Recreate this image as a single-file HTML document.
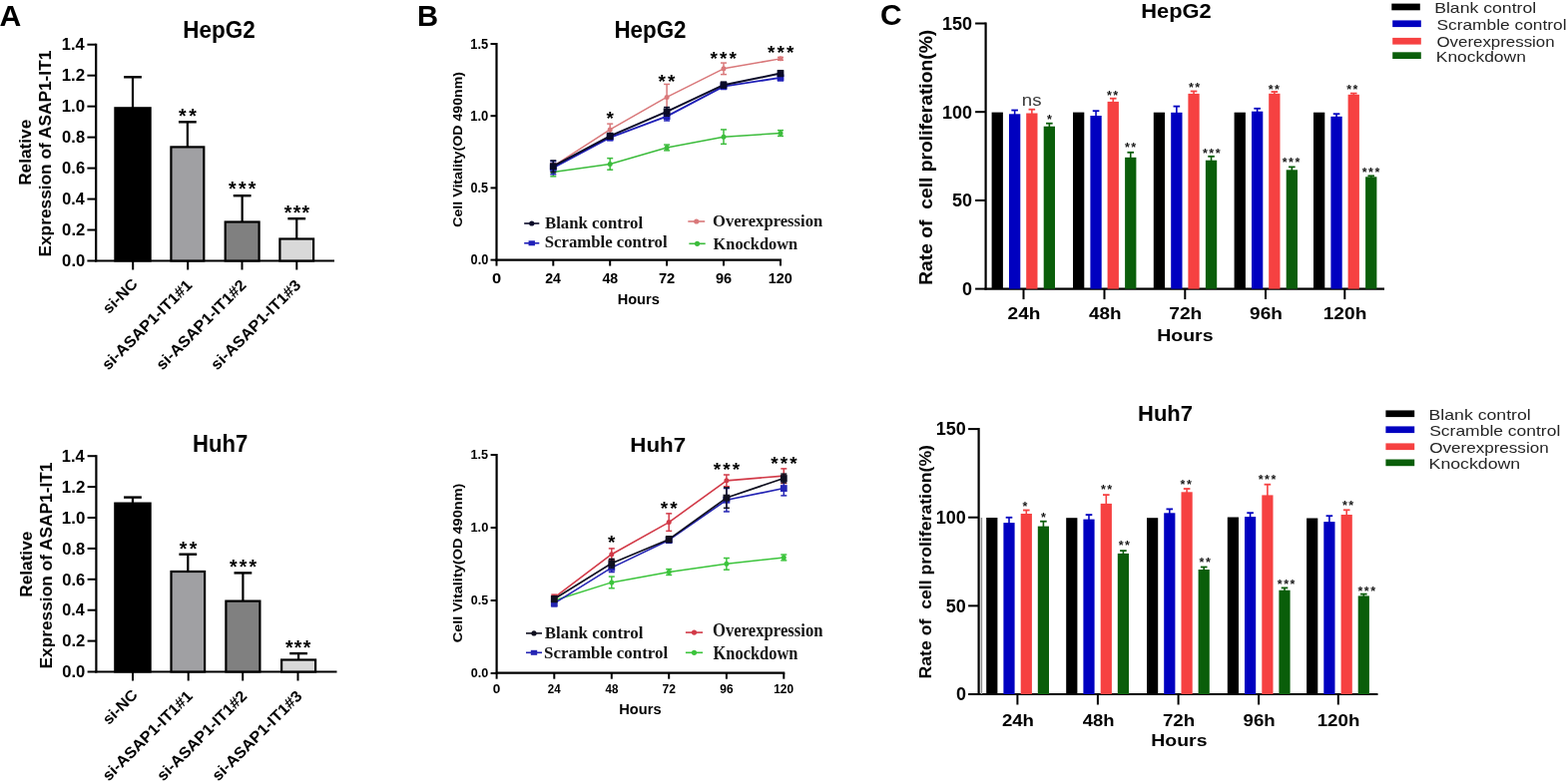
<!DOCTYPE html>
<html><head><meta charset="utf-8"><title>Figure</title>
<style>
html,body{margin:0;padding:0;background:#fff;}
body{width:1571px;height:786px;overflow:hidden;}
svg{display:block;}
</style></head>
<body>
<svg width="1571" height="786" viewBox="0 0 1571 786">
<rect width="1571" height="786" fill="#fff"/>
<text x="-0.55" y="25.8" font-size="30" text-anchor="start" font-weight="bold" font-family="'Liberation Sans', Arial, Helvetica, sans-serif" fill="#000" textLength="21.77" lengthAdjust="spacingAndGlyphs">A</text>
<text x="418" y="25.6" font-size="29.71" text-anchor="start" font-weight="bold" font-family="'Liberation Sans', Arial, Helvetica, sans-serif" fill="#000" textLength="21.07" lengthAdjust="spacingAndGlyphs">B</text>
<text x="881.9" y="25.4" font-size="29.86" text-anchor="start" font-weight="bold" font-family="'Liberation Sans', Arial, Helvetica, sans-serif" fill="#000" textLength="21.61" lengthAdjust="spacingAndGlyphs">C</text>
<text x="183.34" y="37.9" font-size="23.33" text-anchor="start" font-weight="bold" font-family="'Liberation Sans', Arial, Helvetica, sans-serif" fill="#000" textLength="72.33" lengthAdjust="spacingAndGlyphs">HepG2</text>
<line x1="96.2" y1="43.7" x2="96.2" y2="262.5" stroke="#000" stroke-width="2.2"/>
<line x1="87.4" y1="261.5" x2="96.2" y2="261.5" stroke="#000" stroke-width="2"/>
<text x="62.13" y="267.2" font-size="16.23" text-anchor="start" font-weight="bold" font-family="'Liberation Sans', Arial, Helvetica, sans-serif" fill="#000" textLength="23.13" lengthAdjust="spacingAndGlyphs">0.0</text>
<line x1="87.4" y1="230.53" x2="96.2" y2="230.53" stroke="#000" stroke-width="2"/>
<text x="62.13" y="236.23" font-size="16.23" text-anchor="start" font-weight="bold" font-family="'Liberation Sans', Arial, Helvetica, sans-serif" fill="#000" textLength="23.13" lengthAdjust="spacingAndGlyphs">0.2</text>
<line x1="87.4" y1="199.56" x2="96.2" y2="199.56" stroke="#000" stroke-width="2"/>
<text x="62.15" y="205.26" font-size="16.23" text-anchor="start" font-weight="bold" font-family="'Liberation Sans', Arial, Helvetica, sans-serif" fill="#000" textLength="22.53" lengthAdjust="spacingAndGlyphs">0.4</text>
<line x1="87.4" y1="168.59" x2="96.2" y2="168.59" stroke="#000" stroke-width="2"/>
<text x="62.14" y="174.29" font-size="16.23" text-anchor="start" font-weight="bold" font-family="'Liberation Sans', Arial, Helvetica, sans-serif" fill="#000" textLength="23.05" lengthAdjust="spacingAndGlyphs">0.6</text>
<line x1="87.4" y1="137.61" x2="96.2" y2="137.61" stroke="#000" stroke-width="2"/>
<text x="62.14" y="143.31" font-size="16.23" text-anchor="start" font-weight="bold" font-family="'Liberation Sans', Arial, Helvetica, sans-serif" fill="#000" textLength="22.96" lengthAdjust="spacingAndGlyphs">0.8</text>
<line x1="87.4" y1="106.64" x2="96.2" y2="106.64" stroke="#000" stroke-width="2"/>
<text x="61.7" y="112.34" font-size="16.23" text-anchor="start" font-weight="bold" font-family="'Liberation Sans', Arial, Helvetica, sans-serif" fill="#000" textLength="23.58" lengthAdjust="spacingAndGlyphs">1.0</text>
<line x1="87.4" y1="75.67" x2="96.2" y2="75.67" stroke="#000" stroke-width="2"/>
<text x="61.7" y="81.37" font-size="16.23" text-anchor="start" font-weight="bold" font-family="'Liberation Sans', Arial, Helvetica, sans-serif" fill="#000" textLength="23.58" lengthAdjust="spacingAndGlyphs">1.2</text>
<line x1="87.4" y1="44.7" x2="96.2" y2="44.7" stroke="#000" stroke-width="2"/>
<text x="61.73" y="50.4" font-size="16.23" text-anchor="start" font-weight="bold" font-family="'Liberation Sans', Arial, Helvetica, sans-serif" fill="#000" textLength="22.96" lengthAdjust="spacingAndGlyphs">1.4</text>
<text x="30.8" y="185.82" font-size="17" text-anchor="start" font-weight="bold" font-family="'Liberation Sans', Arial, Helvetica, sans-serif" fill="#000" textLength="66.03" lengthAdjust="spacingAndGlyphs" transform="rotate(-90 30.8 185.82)">Relative</text>
<text x="50.6" y="257.52" font-size="17" text-anchor="start" font-weight="bold" font-family="'Liberation Sans', Arial, Helvetica, sans-serif" fill="#000" textLength="206.88" lengthAdjust="spacingAndGlyphs" transform="rotate(-90 50.6 257.52)">Expression of ASAP1-IT1</text>
<line x1="95.2" y1="261.5" x2="335" y2="261.5" stroke="#000" stroke-width="2.2"/>
<line x1="133.2" y1="261.5" x2="133.2" y2="270.5" stroke="#000" stroke-width="2"/>
<line x1="188.2" y1="261.5" x2="188.2" y2="270.5" stroke="#000" stroke-width="2"/>
<line x1="242.5" y1="261.5" x2="242.5" y2="270.5" stroke="#000" stroke-width="2"/>
<line x1="297.3" y1="261.5" x2="297.3" y2="270.5" stroke="#000" stroke-width="2"/>
<line x1="133" y1="77.3" x2="133" y2="108.2" stroke="#000" stroke-width="2.2"/>
<line x1="124.1" y1="77.3" x2="141.9" y2="77.3" stroke="#000" stroke-width="2.4"/>
<rect x="115.4" y="108.3" width="35.2" height="153.2" fill="#000" stroke="#000" stroke-width="2.2"/>
<line x1="187.85" y1="122.3" x2="187.85" y2="147.3" stroke="#000" stroke-width="2.2"/>
<line x1="178.95" y1="122.3" x2="196.75" y2="122.3" stroke="#000" stroke-width="2.4"/>
<rect x="171.4" y="147.4" width="32.9" height="114.1" fill="#a0a0a3" stroke="#000" stroke-width="2.2"/>
<line x1="242.65" y1="196.2" x2="242.65" y2="222.4" stroke="#000" stroke-width="2.2"/>
<line x1="233.75" y1="196.2" x2="251.55" y2="196.2" stroke="#000" stroke-width="2.4"/>
<rect x="225.7" y="222.5" width="33.9" height="39" fill="#808080" stroke="#000" stroke-width="2.2"/>
<line x1="297.25" y1="219.2" x2="297.25" y2="239.4" stroke="#000" stroke-width="2.2"/>
<line x1="288.35" y1="219.2" x2="306.15" y2="219.2" stroke="#000" stroke-width="2.4"/>
<rect x="280.4" y="239.5" width="33.7" height="22" fill="#d9d9d9" stroke="#000" stroke-width="2.2"/>
<text x="179.05" y="122.65" font-size="19.5" font-weight="bold" font-family="'Liberation Sans', Arial, Helvetica, sans-serif" fill="#000" letter-spacing="2.51">**</text>
<text x="229.09" y="196.25" font-size="19.5" font-weight="bold" font-family="'Liberation Sans', Arial, Helvetica, sans-serif" fill="#000" letter-spacing="2.21">***</text>
<text x="284.79" y="220.25" font-size="19.5" font-weight="bold" font-family="'Liberation Sans', Arial, Helvetica, sans-serif" fill="#000" letter-spacing="1.31">***</text>
<text x="138.8" y="285.5" font-size="15.2" text-anchor="end" font-weight="bold" font-family="'Liberation Sans', Arial, Helvetica, sans-serif" fill="#000" textLength="42" lengthAdjust="spacingAndGlyphs" transform="rotate(-45 138.8 285.5)">si-NC</text>
<text x="193.3" y="286.8" font-size="15.6" text-anchor="end" font-weight="bold" font-family="'Liberation Sans', Arial, Helvetica, sans-serif" fill="#000" textLength="120" lengthAdjust="spacingAndGlyphs" transform="rotate(-45 193.3 286.8)">si-ASAP1-IT1#1</text>
<text x="247.6" y="286.8" font-size="15.6" text-anchor="end" font-weight="bold" font-family="'Liberation Sans', Arial, Helvetica, sans-serif" fill="#000" textLength="120" lengthAdjust="spacingAndGlyphs" transform="rotate(-45 247.6 286.8)">si-ASAP1-IT1#2</text>
<text x="302.4" y="286.8" font-size="15.6" text-anchor="end" font-weight="bold" font-family="'Liberation Sans', Arial, Helvetica, sans-serif" fill="#000" textLength="120" lengthAdjust="spacingAndGlyphs" transform="rotate(-45 302.4 286.8)">si-ASAP1-IT1#3</text>
<text x="193.07" y="453" font-size="23.91" text-anchor="start" font-weight="bold" font-family="'Liberation Sans', Arial, Helvetica, sans-serif" fill="#000" textLength="55.13" lengthAdjust="spacingAndGlyphs">Huh7</text>
<line x1="96.4" y1="456.2" x2="96.4" y2="674.5" stroke="#000" stroke-width="2.2"/>
<line x1="87.6" y1="673.5" x2="96.4" y2="673.5" stroke="#000" stroke-width="2"/>
<text x="62.23" y="679.2" font-size="16.23" text-anchor="start" font-weight="bold" font-family="'Liberation Sans', Arial, Helvetica, sans-serif" fill="#000" textLength="23.13" lengthAdjust="spacingAndGlyphs">0.0</text>
<line x1="87.6" y1="642.6" x2="96.4" y2="642.6" stroke="#000" stroke-width="2"/>
<text x="62.23" y="648.3" font-size="16.23" text-anchor="start" font-weight="bold" font-family="'Liberation Sans', Arial, Helvetica, sans-serif" fill="#000" textLength="23.13" lengthAdjust="spacingAndGlyphs">0.2</text>
<line x1="87.6" y1="611.7" x2="96.4" y2="611.7" stroke="#000" stroke-width="2"/>
<text x="62.25" y="617.4" font-size="16.23" text-anchor="start" font-weight="bold" font-family="'Liberation Sans', Arial, Helvetica, sans-serif" fill="#000" textLength="22.53" lengthAdjust="spacingAndGlyphs">0.4</text>
<line x1="87.6" y1="580.8" x2="96.4" y2="580.8" stroke="#000" stroke-width="2"/>
<text x="62.24" y="586.5" font-size="16.23" text-anchor="start" font-weight="bold" font-family="'Liberation Sans', Arial, Helvetica, sans-serif" fill="#000" textLength="23.05" lengthAdjust="spacingAndGlyphs">0.6</text>
<line x1="87.6" y1="549.9" x2="96.4" y2="549.9" stroke="#000" stroke-width="2"/>
<text x="62.24" y="555.6" font-size="16.23" text-anchor="start" font-weight="bold" font-family="'Liberation Sans', Arial, Helvetica, sans-serif" fill="#000" textLength="22.96" lengthAdjust="spacingAndGlyphs">0.8</text>
<line x1="87.6" y1="519" x2="96.4" y2="519" stroke="#000" stroke-width="2"/>
<text x="61.8" y="524.7" font-size="16.23" text-anchor="start" font-weight="bold" font-family="'Liberation Sans', Arial, Helvetica, sans-serif" fill="#000" textLength="23.58" lengthAdjust="spacingAndGlyphs">1.0</text>
<line x1="87.6" y1="488.1" x2="96.4" y2="488.1" stroke="#000" stroke-width="2"/>
<text x="61.8" y="493.8" font-size="16.23" text-anchor="start" font-weight="bold" font-family="'Liberation Sans', Arial, Helvetica, sans-serif" fill="#000" textLength="23.58" lengthAdjust="spacingAndGlyphs">1.2</text>
<line x1="87.6" y1="457.2" x2="96.4" y2="457.2" stroke="#000" stroke-width="2"/>
<text x="61.83" y="462.9" font-size="16.23" text-anchor="start" font-weight="bold" font-family="'Liberation Sans', Arial, Helvetica, sans-serif" fill="#000" textLength="22.96" lengthAdjust="spacingAndGlyphs">1.4</text>
<text x="32.1" y="598.72" font-size="17" text-anchor="start" font-weight="bold" font-family="'Liberation Sans', Arial, Helvetica, sans-serif" fill="#000" textLength="66.03" lengthAdjust="spacingAndGlyphs" transform="rotate(-90 32.1 598.72)">Relative</text>
<text x="51.9" y="670.42" font-size="17" text-anchor="start" font-weight="bold" font-family="'Liberation Sans', Arial, Helvetica, sans-serif" fill="#000" textLength="206.88" lengthAdjust="spacingAndGlyphs" transform="rotate(-90 51.9 670.42)">Expression of ASAP1-IT1</text>
<line x1="95.4" y1="673.5" x2="337.5" y2="673.5" stroke="#000" stroke-width="2.2"/>
<line x1="133" y1="673.5" x2="133" y2="682.5" stroke="#000" stroke-width="2"/>
<line x1="188.7" y1="673.5" x2="188.7" y2="682.5" stroke="#000" stroke-width="2"/>
<line x1="243.2" y1="673.5" x2="243.2" y2="682.5" stroke="#000" stroke-width="2"/>
<line x1="298.5" y1="673.5" x2="298.5" y2="682.5" stroke="#000" stroke-width="2"/>
<line x1="132.95" y1="498.6" x2="132.95" y2="504.5" stroke="#000" stroke-width="2.2"/>
<line x1="124.05" y1="498.6" x2="141.85" y2="498.6" stroke="#000" stroke-width="2.4"/>
<rect x="115.3" y="504.6" width="35.3" height="168.9" fill="#000" stroke="#000" stroke-width="2.2"/>
<line x1="188.3" y1="555.7" x2="188.3" y2="572.9" stroke="#000" stroke-width="2.2"/>
<line x1="179.4" y1="555.7" x2="197.2" y2="555.7" stroke="#000" stroke-width="2.4"/>
<rect x="171.5" y="573" width="33.6" height="100.5" fill="#a0a0a3" stroke="#000" stroke-width="2.2"/>
<line x1="243.4" y1="574.4" x2="243.4" y2="602.5" stroke="#000" stroke-width="2.2"/>
<line x1="234.5" y1="574.4" x2="252.3" y2="574.4" stroke="#000" stroke-width="2.4"/>
<rect x="226.4" y="602.6" width="34" height="70.9" fill="#808080" stroke="#000" stroke-width="2.2"/>
<line x1="299.1" y1="655.1" x2="299.1" y2="661.4" stroke="#000" stroke-width="2.2"/>
<line x1="290.2" y1="655.1" x2="308" y2="655.1" stroke="#000" stroke-width="2.4"/>
<rect x="282.1" y="661.5" width="34" height="12" fill="#d9d9d9" stroke="#000" stroke-width="2.2"/>
<text x="179.75" y="556.95" font-size="19.5" font-weight="bold" font-family="'Liberation Sans', Arial, Helvetica, sans-serif" fill="#000" letter-spacing="2.51">**</text>
<text x="230" y="575.45" font-size="19.5" font-weight="bold" font-family="'Liberation Sans', Arial, Helvetica, sans-serif" fill="#000" letter-spacing="2.21">***</text>
<text x="285.89" y="655.55" font-size="19.5" font-weight="bold" font-family="'Liberation Sans', Arial, Helvetica, sans-serif" fill="#000" letter-spacing="1.31">***</text>
<text x="138.6" y="697.5" font-size="15.2" text-anchor="end" font-weight="bold" font-family="'Liberation Sans', Arial, Helvetica, sans-serif" fill="#000" textLength="42" lengthAdjust="spacingAndGlyphs" transform="rotate(-45 138.6 697.5)">si-NC</text>
<text x="193.8" y="698.8" font-size="15.6" text-anchor="end" font-weight="bold" font-family="'Liberation Sans', Arial, Helvetica, sans-serif" fill="#000" textLength="120" lengthAdjust="spacingAndGlyphs" transform="rotate(-45 193.8 698.8)">si-ASAP1-IT1#1</text>
<text x="248.3" y="698.8" font-size="15.6" text-anchor="end" font-weight="bold" font-family="'Liberation Sans', Arial, Helvetica, sans-serif" fill="#000" textLength="120" lengthAdjust="spacingAndGlyphs" transform="rotate(-45 248.3 698.8)">si-ASAP1-IT1#2</text>
<text x="303.6" y="698.8" font-size="15.6" text-anchor="end" font-weight="bold" font-family="'Liberation Sans', Arial, Helvetica, sans-serif" fill="#000" textLength="120" lengthAdjust="spacingAndGlyphs" transform="rotate(-45 303.6 698.8)">si-ASAP1-IT1#3</text>
<text x="615.45" y="37.6" font-size="23.48" text-anchor="start" font-weight="bold" font-family="'Liberation Sans', Arial, Helvetica, sans-serif" fill="#000" textLength="72.12" lengthAdjust="spacingAndGlyphs">HepG2</text>
<line x1="497.5" y1="43" x2="497.5" y2="261.6" stroke="#000" stroke-width="2.2"/>
<line x1="491.5" y1="260.6" x2="497.5" y2="260.6" stroke="#000" stroke-width="2"/>
<text x="471.59" y="265.45" font-size="14.06" text-anchor="start" font-weight="bold" font-family="'Liberation Sans', Arial, Helvetica, sans-serif" fill="#000" textLength="17.72" lengthAdjust="spacingAndGlyphs">0.0</text>
<line x1="491.5" y1="188.4" x2="497.5" y2="188.4" stroke="#000" stroke-width="2"/>
<text x="471.6" y="193.25" font-size="14.06" text-anchor="start" font-weight="bold" font-family="'Liberation Sans', Arial, Helvetica, sans-serif" fill="#000" textLength="17.52" lengthAdjust="spacingAndGlyphs">0.5</text>
<line x1="491.5" y1="116.2" x2="497.5" y2="116.2" stroke="#000" stroke-width="2"/>
<text x="471.26" y="121.05" font-size="14.06" text-anchor="start" font-weight="bold" font-family="'Liberation Sans', Arial, Helvetica, sans-serif" fill="#000" textLength="18.07" lengthAdjust="spacingAndGlyphs">1.0</text>
<line x1="491.5" y1="44" x2="497.5" y2="44" stroke="#000" stroke-width="2"/>
<text x="471.27" y="48.85" font-size="14.06" text-anchor="start" font-weight="bold" font-family="'Liberation Sans', Arial, Helvetica, sans-serif" fill="#000" textLength="17.86" lengthAdjust="spacingAndGlyphs">1.5</text>
<text x="462.6" y="227.77" font-size="13.3" text-anchor="start" font-weight="bold" font-family="'Liberation Sans', Arial, Helvetica, sans-serif" fill="#000" textLength="155.88" lengthAdjust="spacingAndGlyphs" transform="rotate(-90 462.6 227.77)">Cell Vitality(OD 490nm)</text>
<line x1="496.5" y1="260.6" x2="783" y2="260.6" stroke="#000" stroke-width="2.2"/>
<line x1="497.5" y1="260.6" x2="497.5" y2="266.6" stroke="#000" stroke-width="2"/>
<text x="492.91" y="283.5" font-size="14.78" text-anchor="start" font-weight="bold" font-family="'Liberation Sans', Arial, Helvetica, sans-serif" fill="#000" textLength="9.19" lengthAdjust="spacingAndGlyphs">0</text>
<line x1="554.3" y1="260.6" x2="554.3" y2="266.6" stroke="#000" stroke-width="2"/>
<text x="546.26" y="283.5" font-size="14.78" text-anchor="start" font-weight="bold" font-family="'Liberation Sans', Arial, Helvetica, sans-serif" fill="#000" textLength="15.7" lengthAdjust="spacingAndGlyphs">24</text>
<line x1="611.2" y1="260.6" x2="611.2" y2="266.6" stroke="#000" stroke-width="2"/>
<text x="603.44" y="283.5" font-size="14.78" text-anchor="start" font-weight="bold" font-family="'Liberation Sans', Arial, Helvetica, sans-serif" fill="#000" textLength="15.77" lengthAdjust="spacingAndGlyphs">48</text>
<line x1="668.1" y1="260.6" x2="668.1" y2="266.6" stroke="#000" stroke-width="2"/>
<text x="659.89" y="283.5" font-size="14.78" text-anchor="start" font-weight="bold" font-family="'Liberation Sans', Arial, Helvetica, sans-serif" fill="#000" textLength="16.39" lengthAdjust="spacingAndGlyphs">72</text>
<line x1="725" y1="260.6" x2="725" y2="266.6" stroke="#000" stroke-width="2"/>
<text x="716.94" y="283.5" font-size="14.78" text-anchor="start" font-weight="bold" font-family="'Liberation Sans', Arial, Helvetica, sans-serif" fill="#000" textLength="16.15" lengthAdjust="spacingAndGlyphs">96</text>
<line x1="782" y1="260.6" x2="782" y2="266.6" stroke="#000" stroke-width="2"/>
<text x="769.73" y="283.5" font-size="14.78" text-anchor="start" font-weight="bold" font-family="'Liberation Sans', Arial, Helvetica, sans-serif" fill="#000" textLength="24.23" lengthAdjust="spacingAndGlyphs">120</text>
<text x="618.65" y="304.9" font-size="14.78" text-anchor="start" font-weight="bold" font-family="'Liberation Sans', Arial, Helvetica, sans-serif" fill="#000" textLength="42.12" lengthAdjust="spacingAndGlyphs">Hours</text>
<polyline points="554.3,166.74 611.2,129.92 668.1,97.43 725,68.84 782,58.87" fill="none" stroke="#d9787a" stroke-width="1.5" stroke-linejoin="round"/>
<line x1="554.3" y1="163.85" x2="554.3" y2="169.63" stroke="#d9787a" stroke-width="1.5"/>
<line x1="551.3" y1="163.85" x2="557.3" y2="163.85" stroke="#d9787a" stroke-width="1.5"/>
<line x1="551.3" y1="169.63" x2="557.3" y2="169.63" stroke="#d9787a" stroke-width="1.5"/>
<circle cx="554.3" cy="166.74" r="2.5" fill="#d9787a"/>
<line x1="611.2" y1="124.14" x2="611.2" y2="135.69" stroke="#d9787a" stroke-width="1.5"/>
<line x1="608.2" y1="124.14" x2="614.2" y2="124.14" stroke="#d9787a" stroke-width="1.5"/>
<line x1="608.2" y1="135.69" x2="614.2" y2="135.69" stroke="#d9787a" stroke-width="1.5"/>
<circle cx="611.2" cy="129.92" r="2.5" fill="#d9787a"/>
<line x1="668.1" y1="84.43" x2="668.1" y2="110.42" stroke="#d9787a" stroke-width="1.5"/>
<line x1="665.1" y1="84.43" x2="671.1" y2="84.43" stroke="#d9787a" stroke-width="1.5"/>
<line x1="665.1" y1="110.42" x2="671.1" y2="110.42" stroke="#d9787a" stroke-width="1.5"/>
<circle cx="668.1" cy="97.43" r="2.5" fill="#d9787a"/>
<line x1="725" y1="63.06" x2="725" y2="74.61" stroke="#d9787a" stroke-width="1.5"/>
<line x1="722" y1="63.06" x2="728" y2="63.06" stroke="#d9787a" stroke-width="1.5"/>
<line x1="722" y1="74.61" x2="728" y2="74.61" stroke="#d9787a" stroke-width="1.5"/>
<circle cx="725" cy="68.84" r="2.5" fill="#d9787a"/>
<line x1="782" y1="57.43" x2="782" y2="60.32" stroke="#d9787a" stroke-width="1.5"/>
<line x1="779" y1="57.43" x2="785" y2="57.43" stroke="#d9787a" stroke-width="1.5"/>
<line x1="779" y1="60.32" x2="785" y2="60.32" stroke="#d9787a" stroke-width="1.5"/>
<circle cx="782" cy="58.87" r="2.5" fill="#d9787a"/>
<polyline points="554.3,172.52 611.2,164.43 668.1,147.97 725,137.14 782,133.53" fill="none" stroke="#3cbc3c" stroke-width="1.5" stroke-linejoin="round"/>
<line x1="554.3" y1="168.18" x2="554.3" y2="176.85" stroke="#3cbc3c" stroke-width="1.5"/>
<line x1="551.3" y1="168.18" x2="557.3" y2="168.18" stroke="#3cbc3c" stroke-width="1.5"/>
<line x1="551.3" y1="176.85" x2="557.3" y2="176.85" stroke="#3cbc3c" stroke-width="1.5"/>
<circle cx="554.3" cy="172.52" r="2.5" fill="#3cbc3c"/>
<line x1="611.2" y1="158.65" x2="611.2" y2="170.21" stroke="#3cbc3c" stroke-width="1.5"/>
<line x1="608.2" y1="158.65" x2="614.2" y2="158.65" stroke="#3cbc3c" stroke-width="1.5"/>
<line x1="608.2" y1="170.21" x2="614.2" y2="170.21" stroke="#3cbc3c" stroke-width="1.5"/>
<circle cx="611.2" cy="164.43" r="2.5" fill="#3cbc3c"/>
<line x1="668.1" y1="145.08" x2="668.1" y2="150.86" stroke="#3cbc3c" stroke-width="1.5"/>
<line x1="665.1" y1="145.08" x2="671.1" y2="145.08" stroke="#3cbc3c" stroke-width="1.5"/>
<line x1="665.1" y1="150.86" x2="671.1" y2="150.86" stroke="#3cbc3c" stroke-width="1.5"/>
<circle cx="668.1" cy="147.97" r="2.5" fill="#3cbc3c"/>
<line x1="725" y1="129.92" x2="725" y2="144.36" stroke="#3cbc3c" stroke-width="1.5"/>
<line x1="722" y1="129.92" x2="728" y2="129.92" stroke="#3cbc3c" stroke-width="1.5"/>
<line x1="722" y1="144.36" x2="728" y2="144.36" stroke="#3cbc3c" stroke-width="1.5"/>
<circle cx="725" cy="137.14" r="2.5" fill="#3cbc3c"/>
<line x1="782" y1="130.64" x2="782" y2="136.42" stroke="#3cbc3c" stroke-width="1.5"/>
<line x1="779" y1="130.64" x2="785" y2="130.64" stroke="#3cbc3c" stroke-width="1.5"/>
<line x1="779" y1="136.42" x2="785" y2="136.42" stroke="#3cbc3c" stroke-width="1.5"/>
<circle cx="782" cy="133.53" r="2.5" fill="#3cbc3c"/>
<polyline points="554.3,168.18 611.2,137.86 668.1,116.63 725,86.6 782,77.93" fill="none" stroke="#2020b8" stroke-width="1.8" stroke-linejoin="round"/>
<line x1="554.3" y1="161.69" x2="554.3" y2="174.68" stroke="#2020b8" stroke-width="1.5"/>
<line x1="551.3" y1="161.69" x2="557.3" y2="161.69" stroke="#2020b8" stroke-width="1.5"/>
<line x1="551.3" y1="174.68" x2="557.3" y2="174.68" stroke="#2020b8" stroke-width="1.5"/>
<rect x="550.9" y="164.78" width="6.8" height="6.8" fill="#2020b8"/>
<line x1="611.2" y1="134.97" x2="611.2" y2="140.75" stroke="#2020b8" stroke-width="1.5"/>
<line x1="608.2" y1="134.97" x2="614.2" y2="134.97" stroke="#2020b8" stroke-width="1.5"/>
<line x1="608.2" y1="140.75" x2="614.2" y2="140.75" stroke="#2020b8" stroke-width="1.5"/>
<rect x="607.8" y="134.46" width="6.8" height="6.8" fill="#2020b8"/>
<line x1="668.1" y1="112.3" x2="668.1" y2="120.97" stroke="#2020b8" stroke-width="1.5"/>
<line x1="665.1" y1="112.3" x2="671.1" y2="112.3" stroke="#2020b8" stroke-width="1.5"/>
<line x1="665.1" y1="120.97" x2="671.1" y2="120.97" stroke="#2020b8" stroke-width="1.5"/>
<rect x="664.7" y="113.23" width="6.8" height="6.8" fill="#2020b8"/>
<line x1="725" y1="83.71" x2="725" y2="89.49" stroke="#2020b8" stroke-width="1.5"/>
<line x1="722" y1="83.71" x2="728" y2="83.71" stroke="#2020b8" stroke-width="1.5"/>
<line x1="722" y1="89.49" x2="728" y2="89.49" stroke="#2020b8" stroke-width="1.5"/>
<rect x="721.6" y="83.2" width="6.8" height="6.8" fill="#2020b8"/>
<line x1="782" y1="75.05" x2="782" y2="80.82" stroke="#2020b8" stroke-width="1.5"/>
<line x1="779" y1="75.05" x2="785" y2="75.05" stroke="#2020b8" stroke-width="1.5"/>
<line x1="779" y1="80.82" x2="785" y2="80.82" stroke="#2020b8" stroke-width="1.5"/>
<rect x="778.6" y="74.53" width="6.8" height="6.8" fill="#2020b8"/>
<polyline points="554.3,166.74 611.2,136.42 668.1,111.87 725,85.15 782,73.6" fill="none" stroke="#0a0a28" stroke-width="2" stroke-linejoin="round"/>
<line x1="554.3" y1="160.96" x2="554.3" y2="172.52" stroke="#0a0a28" stroke-width="1.5"/>
<line x1="551.3" y1="160.96" x2="557.3" y2="160.96" stroke="#0a0a28" stroke-width="1.5"/>
<line x1="551.3" y1="172.52" x2="557.3" y2="172.52" stroke="#0a0a28" stroke-width="1.5"/>
<rect x="550.9" y="163.34" width="6.8" height="6.8" fill="#0a0a28"/>
<line x1="611.2" y1="133.53" x2="611.2" y2="139.3" stroke="#0a0a28" stroke-width="1.5"/>
<line x1="608.2" y1="133.53" x2="614.2" y2="133.53" stroke="#0a0a28" stroke-width="1.5"/>
<line x1="608.2" y1="139.3" x2="614.2" y2="139.3" stroke="#0a0a28" stroke-width="1.5"/>
<rect x="607.8" y="133.02" width="6.8" height="6.8" fill="#0a0a28"/>
<line x1="668.1" y1="107.54" x2="668.1" y2="116.2" stroke="#0a0a28" stroke-width="1.5"/>
<line x1="665.1" y1="107.54" x2="671.1" y2="107.54" stroke="#0a0a28" stroke-width="1.5"/>
<line x1="665.1" y1="116.2" x2="671.1" y2="116.2" stroke="#0a0a28" stroke-width="1.5"/>
<rect x="664.7" y="108.47" width="6.8" height="6.8" fill="#0a0a28"/>
<line x1="725" y1="82.27" x2="725" y2="88.04" stroke="#0a0a28" stroke-width="1.5"/>
<line x1="722" y1="82.27" x2="728" y2="82.27" stroke="#0a0a28" stroke-width="1.5"/>
<line x1="722" y1="88.04" x2="728" y2="88.04" stroke="#0a0a28" stroke-width="1.5"/>
<rect x="721.6" y="81.75" width="6.8" height="6.8" fill="#0a0a28"/>
<line x1="782" y1="70.71" x2="782" y2="76.49" stroke="#0a0a28" stroke-width="1.5"/>
<line x1="779" y1="70.71" x2="785" y2="70.71" stroke="#0a0a28" stroke-width="1.5"/>
<line x1="779" y1="76.49" x2="785" y2="76.49" stroke="#0a0a28" stroke-width="1.5"/>
<rect x="778.6" y="70.2" width="6.8" height="6.8" fill="#0a0a28"/>
<text x="607.39" y="125.19" font-size="19" font-weight="bold" font-family="'Liberation Sans', Arial, Helvetica, sans-serif" fill="#000" letter-spacing="-7.39">*</text>
<text x="659.44" y="88.49" font-size="19" font-weight="bold" font-family="'Liberation Sans', Arial, Helvetica, sans-serif" fill="#000" letter-spacing="2.11">**</text>
<text x="711.49" y="65.09" font-size="19" font-weight="bold" font-family="'Liberation Sans', Arial, Helvetica, sans-serif" fill="#000" letter-spacing="2.11">***</text>
<text x="768.89" y="59.39" font-size="19" font-weight="bold" font-family="'Liberation Sans', Arial, Helvetica, sans-serif" fill="#000" letter-spacing="2.11">***</text>
<line x1="525.2" y1="224" x2="540.3" y2="224" stroke="#0a0a28" stroke-width="1.6"/>
<circle cx="532.75" cy="224" r="2.6" fill="#0a0a28"/>
<text x="545.95" y="229.1" font-size="16.34" text-anchor="start" font-weight="bold" font-family="'Liberation Serif', 'Times New Roman', Times, serif" fill="#141414" textLength="98.17" lengthAdjust="spacingAndGlyphs">Blank control</text>
<line x1="525.2" y1="243.8" x2="540.3" y2="243.8" stroke="#2020b8" stroke-width="1.6"/>
<rect x="529.55" y="241.3" width="6.4" height="5" fill="#2020b8"/>
<text x="545.78" y="248.2" font-size="16.34" text-anchor="start" font-weight="bold" font-family="'Liberation Serif', 'Times New Roman', Times, serif" fill="#141414" textLength="122.79" lengthAdjust="spacingAndGlyphs">Scramble control</text>
<line x1="689.3" y1="222" x2="706.2" y2="222" stroke="#d9787a" stroke-width="1.6"/>
<circle cx="697.75" cy="222" r="2.6" fill="#d9787a"/>
<text x="713.97" y="226.9" font-size="16.34" text-anchor="start" font-weight="bold" font-family="'Liberation Serif', 'Times New Roman', Times, serif" fill="#141414" textLength="110.27" lengthAdjust="spacingAndGlyphs">Overexpression</text>
<line x1="690.4" y1="244.3" x2="706.7" y2="244.3" stroke="#3cbc3c" stroke-width="1.6"/>
<circle cx="698.55" cy="244.3" r="2.6" fill="#3cbc3c"/>
<text x="714.55" y="250.4" font-size="16.34" text-anchor="start" font-weight="bold" font-family="'Liberation Serif', 'Times New Roman', Times, serif" fill="#141414" textLength="84.65" lengthAdjust="spacingAndGlyphs">Knockdown</text>
<text x="631.25" y="452.9" font-size="21.01" text-anchor="start" font-weight="bold" font-family="'Liberation Sans', Arial, Helvetica, sans-serif" fill="#000" textLength="55.86" lengthAdjust="spacingAndGlyphs">Huh7</text>
<line x1="497.6" y1="455" x2="497.6" y2="675.7" stroke="#000" stroke-width="2.2"/>
<line x1="491.6" y1="675" x2="497.6" y2="675" stroke="#000" stroke-width="2"/>
<text x="471.8" y="679.45" font-size="12.9" text-anchor="start" font-weight="bold" font-family="'Liberation Sans', Arial, Helvetica, sans-serif" fill="#000" textLength="17.51" lengthAdjust="spacingAndGlyphs">0.0</text>
<line x1="491.6" y1="602" x2="497.6" y2="602" stroke="#000" stroke-width="2"/>
<text x="471.8" y="606.45" font-size="12.9" text-anchor="start" font-weight="bold" font-family="'Liberation Sans', Arial, Helvetica, sans-serif" fill="#000" textLength="17.31" lengthAdjust="spacingAndGlyphs">0.5</text>
<line x1="491.6" y1="529" x2="497.6" y2="529" stroke="#000" stroke-width="2"/>
<text x="471.47" y="533.45" font-size="12.9" text-anchor="start" font-weight="bold" font-family="'Liberation Sans', Arial, Helvetica, sans-serif" fill="#000" textLength="17.85" lengthAdjust="spacingAndGlyphs">1.0</text>
<line x1="491.6" y1="456" x2="497.6" y2="456" stroke="#000" stroke-width="2"/>
<text x="471.48" y="460.45" font-size="12.9" text-anchor="start" font-weight="bold" font-family="'Liberation Sans', Arial, Helvetica, sans-serif" fill="#000" textLength="17.64" lengthAdjust="spacingAndGlyphs">1.5</text>
<text x="463.3" y="644.28" font-size="13.3" text-anchor="start" font-weight="bold" font-family="'Liberation Sans', Arial, Helvetica, sans-serif" fill="#000" textLength="159.71" lengthAdjust="spacingAndGlyphs" transform="rotate(-90 463.3 644.28)">Cell Vitality(OD 490nm)</text>
<line x1="496.6" y1="674.7" x2="786.3" y2="674.7" stroke="#000" stroke-width="2.2"/>
<line x1="497.6" y1="674.7" x2="497.6" y2="680.7" stroke="#000" stroke-width="2"/>
<text x="493.83" y="695.3" font-size="12.9" text-anchor="start" font-weight="bold" font-family="'Liberation Sans', Arial, Helvetica, sans-serif" fill="#000" textLength="7.55" lengthAdjust="spacingAndGlyphs">0</text>
<line x1="555.3" y1="674.7" x2="555.3" y2="680.7" stroke="#000" stroke-width="2"/>
<text x="548.69" y="695.3" font-size="12.9" text-anchor="start" font-weight="bold" font-family="'Liberation Sans', Arial, Helvetica, sans-serif" fill="#000" textLength="12.89" lengthAdjust="spacingAndGlyphs">24</text>
<line x1="612.8" y1="674.7" x2="612.8" y2="680.7" stroke="#000" stroke-width="2"/>
<text x="606.43" y="695.3" font-size="12.9" text-anchor="start" font-weight="bold" font-family="'Liberation Sans', Arial, Helvetica, sans-serif" fill="#000" textLength="12.95" lengthAdjust="spacingAndGlyphs">48</text>
<line x1="670.2" y1="674.7" x2="670.2" y2="680.7" stroke="#000" stroke-width="2"/>
<text x="663.46" y="695.3" font-size="12.9" text-anchor="start" font-weight="bold" font-family="'Liberation Sans', Arial, Helvetica, sans-serif" fill="#000" textLength="13.46" lengthAdjust="spacingAndGlyphs">72</text>
<line x1="727.9" y1="674.7" x2="727.9" y2="680.7" stroke="#000" stroke-width="2"/>
<text x="721.28" y="695.3" font-size="12.9" text-anchor="start" font-weight="bold" font-family="'Liberation Sans', Arial, Helvetica, sans-serif" fill="#000" textLength="13.26" lengthAdjust="spacingAndGlyphs">96</text>
<line x1="785.3" y1="674.7" x2="785.3" y2="680.7" stroke="#000" stroke-width="2"/>
<text x="775.23" y="695.3" font-size="12.9" text-anchor="start" font-weight="bold" font-family="'Liberation Sans', Arial, Helvetica, sans-serif" fill="#000" textLength="19.89" lengthAdjust="spacingAndGlyphs">120</text>
<text x="620.25" y="716.2" font-size="14.2" text-anchor="start" font-weight="bold" font-family="'Liberation Sans', Arial, Helvetica, sans-serif" fill="#000" textLength="42.33" lengthAdjust="spacingAndGlyphs">Hours</text>
<polyline points="555.3,599.08 612.8,555.72 670.2,523.6 727.9,481.84 785.3,477.17" fill="none" stroke="#d23a48" stroke-width="1.6" stroke-linejoin="round"/>
<line x1="555.3" y1="596.16" x2="555.3" y2="602" stroke="#d23a48" stroke-width="1.5"/>
<line x1="552.3" y1="596.16" x2="558.3" y2="596.16" stroke="#d23a48" stroke-width="1.5"/>
<line x1="552.3" y1="602" x2="558.3" y2="602" stroke="#d23a48" stroke-width="1.5"/>
<circle cx="555.3" cy="599.08" r="2.5" fill="#d23a48"/>
<line x1="612.8" y1="549.88" x2="612.8" y2="561.56" stroke="#d23a48" stroke-width="1.5"/>
<line x1="609.8" y1="549.88" x2="615.8" y2="549.88" stroke="#d23a48" stroke-width="1.5"/>
<line x1="609.8" y1="561.56" x2="615.8" y2="561.56" stroke="#d23a48" stroke-width="1.5"/>
<circle cx="612.8" cy="555.72" r="2.5" fill="#d23a48"/>
<line x1="670.2" y1="514.84" x2="670.2" y2="532.36" stroke="#d23a48" stroke-width="1.5"/>
<line x1="667.2" y1="514.84" x2="673.2" y2="514.84" stroke="#d23a48" stroke-width="1.5"/>
<line x1="667.2" y1="532.36" x2="673.2" y2="532.36" stroke="#d23a48" stroke-width="1.5"/>
<circle cx="670.2" cy="523.6" r="2.5" fill="#d23a48"/>
<line x1="727.9" y1="476" x2="727.9" y2="487.68" stroke="#d23a48" stroke-width="1.5"/>
<line x1="724.9" y1="476" x2="730.9" y2="476" stroke="#d23a48" stroke-width="1.5"/>
<line x1="724.9" y1="487.68" x2="730.9" y2="487.68" stroke="#d23a48" stroke-width="1.5"/>
<circle cx="727.9" cy="481.84" r="2.5" fill="#d23a48"/>
<line x1="785.3" y1="469.87" x2="785.3" y2="484.47" stroke="#d23a48" stroke-width="1.5"/>
<line x1="782.3" y1="469.87" x2="788.3" y2="469.87" stroke="#d23a48" stroke-width="1.5"/>
<line x1="782.3" y1="484.47" x2="788.3" y2="484.47" stroke="#d23a48" stroke-width="1.5"/>
<circle cx="785.3" cy="477.17" r="2.5" fill="#d23a48"/>
<polyline points="555.3,602 612.8,583.9 670.2,573.53 727.9,565.35 785.3,558.93" fill="none" stroke="#3cc43c" stroke-width="1.5" stroke-linejoin="round"/>
<line x1="555.3" y1="599.08" x2="555.3" y2="604.92" stroke="#3cc43c" stroke-width="1.5"/>
<line x1="552.3" y1="599.08" x2="558.3" y2="599.08" stroke="#3cc43c" stroke-width="1.5"/>
<line x1="552.3" y1="604.92" x2="558.3" y2="604.92" stroke="#3cc43c" stroke-width="1.5"/>
<circle cx="555.3" cy="602" r="2.5" fill="#3cc43c"/>
<line x1="612.8" y1="578.06" x2="612.8" y2="589.74" stroke="#3cc43c" stroke-width="1.5"/>
<line x1="609.8" y1="578.06" x2="615.8" y2="578.06" stroke="#3cc43c" stroke-width="1.5"/>
<line x1="609.8" y1="589.74" x2="615.8" y2="589.74" stroke="#3cc43c" stroke-width="1.5"/>
<circle cx="612.8" cy="583.9" r="2.5" fill="#3cc43c"/>
<line x1="670.2" y1="570.61" x2="670.2" y2="576.45" stroke="#3cc43c" stroke-width="1.5"/>
<line x1="667.2" y1="570.61" x2="673.2" y2="570.61" stroke="#3cc43c" stroke-width="1.5"/>
<line x1="667.2" y1="576.45" x2="673.2" y2="576.45" stroke="#3cc43c" stroke-width="1.5"/>
<circle cx="670.2" cy="573.53" r="2.5" fill="#3cc43c"/>
<line x1="727.9" y1="559.51" x2="727.9" y2="571.19" stroke="#3cc43c" stroke-width="1.5"/>
<line x1="724.9" y1="559.51" x2="730.9" y2="559.51" stroke="#3cc43c" stroke-width="1.5"/>
<line x1="724.9" y1="571.19" x2="730.9" y2="571.19" stroke="#3cc43c" stroke-width="1.5"/>
<circle cx="727.9" cy="565.35" r="2.5" fill="#3cc43c"/>
<line x1="785.3" y1="556.01" x2="785.3" y2="561.85" stroke="#3cc43c" stroke-width="1.5"/>
<line x1="782.3" y1="556.01" x2="788.3" y2="556.01" stroke="#3cc43c" stroke-width="1.5"/>
<line x1="782.3" y1="561.85" x2="788.3" y2="561.85" stroke="#3cc43c" stroke-width="1.5"/>
<circle cx="785.3" cy="558.93" r="2.5" fill="#3cc43c"/>
<polyline points="555.3,604.92 612.8,569.15 670.2,541.41 727.9,501.26 785.3,489.58" fill="none" stroke="#2424b4" stroke-width="1.6" stroke-linejoin="round"/>
<line x1="555.3" y1="602" x2="555.3" y2="607.84" stroke="#2424b4" stroke-width="1.5"/>
<line x1="552.3" y1="602" x2="558.3" y2="602" stroke="#2424b4" stroke-width="1.5"/>
<line x1="552.3" y1="607.84" x2="558.3" y2="607.84" stroke="#2424b4" stroke-width="1.5"/>
<rect x="551.9" y="601.52" width="6.8" height="6.8" fill="#2424b4"/>
<line x1="612.8" y1="564.77" x2="612.8" y2="573.53" stroke="#2424b4" stroke-width="1.5"/>
<line x1="609.8" y1="564.77" x2="615.8" y2="564.77" stroke="#2424b4" stroke-width="1.5"/>
<line x1="609.8" y1="573.53" x2="615.8" y2="573.53" stroke="#2424b4" stroke-width="1.5"/>
<rect x="609.4" y="565.75" width="6.8" height="6.8" fill="#2424b4"/>
<line x1="670.2" y1="538.49" x2="670.2" y2="544.33" stroke="#2424b4" stroke-width="1.5"/>
<line x1="667.2" y1="538.49" x2="673.2" y2="538.49" stroke="#2424b4" stroke-width="1.5"/>
<line x1="667.2" y1="544.33" x2="673.2" y2="544.33" stroke="#2424b4" stroke-width="1.5"/>
<rect x="666.8" y="538.01" width="6.8" height="6.8" fill="#2424b4"/>
<line x1="727.9" y1="489.58" x2="727.9" y2="512.94" stroke="#2424b4" stroke-width="1.5"/>
<line x1="724.9" y1="489.58" x2="730.9" y2="489.58" stroke="#2424b4" stroke-width="1.5"/>
<line x1="724.9" y1="512.94" x2="730.9" y2="512.94" stroke="#2424b4" stroke-width="1.5"/>
<rect x="724.5" y="497.86" width="6.8" height="6.8" fill="#2424b4"/>
<line x1="785.3" y1="482.28" x2="785.3" y2="496.88" stroke="#2424b4" stroke-width="1.5"/>
<line x1="782.3" y1="482.28" x2="788.3" y2="482.28" stroke="#2424b4" stroke-width="1.5"/>
<line x1="782.3" y1="496.88" x2="788.3" y2="496.88" stroke="#2424b4" stroke-width="1.5"/>
<rect x="781.9" y="486.18" width="6.8" height="6.8" fill="#2424b4"/>
<polyline points="555.3,600.54 612.8,564.77 670.2,540.68 727.9,499.07 785.3,479.51" fill="none" stroke="#101020" stroke-width="1.7" stroke-linejoin="round"/>
<line x1="555.3" y1="597.62" x2="555.3" y2="603.46" stroke="#101020" stroke-width="1.5"/>
<line x1="552.3" y1="597.62" x2="558.3" y2="597.62" stroke="#101020" stroke-width="1.5"/>
<line x1="552.3" y1="603.46" x2="558.3" y2="603.46" stroke="#101020" stroke-width="1.5"/>
<rect x="551.9" y="597.14" width="6.8" height="6.8" fill="#101020"/>
<line x1="612.8" y1="560.39" x2="612.8" y2="569.15" stroke="#101020" stroke-width="1.5"/>
<line x1="609.8" y1="560.39" x2="615.8" y2="560.39" stroke="#101020" stroke-width="1.5"/>
<line x1="609.8" y1="569.15" x2="615.8" y2="569.15" stroke="#101020" stroke-width="1.5"/>
<rect x="609.4" y="561.37" width="6.8" height="6.8" fill="#101020"/>
<line x1="670.2" y1="537.76" x2="670.2" y2="543.6" stroke="#101020" stroke-width="1.5"/>
<line x1="667.2" y1="537.76" x2="673.2" y2="537.76" stroke="#101020" stroke-width="1.5"/>
<line x1="667.2" y1="543.6" x2="673.2" y2="543.6" stroke="#101020" stroke-width="1.5"/>
<rect x="666.8" y="537.28" width="6.8" height="6.8" fill="#101020"/>
<line x1="727.9" y1="488.85" x2="727.9" y2="509.29" stroke="#101020" stroke-width="1.5"/>
<line x1="724.9" y1="488.85" x2="730.9" y2="488.85" stroke="#101020" stroke-width="1.5"/>
<line x1="724.9" y1="509.29" x2="730.9" y2="509.29" stroke="#101020" stroke-width="1.5"/>
<rect x="724.5" y="495.67" width="6.8" height="6.8" fill="#101020"/>
<line x1="785.3" y1="475.13" x2="785.3" y2="483.89" stroke="#101020" stroke-width="1.5"/>
<line x1="782.3" y1="475.13" x2="788.3" y2="475.13" stroke="#101020" stroke-width="1.5"/>
<line x1="782.3" y1="483.89" x2="788.3" y2="483.89" stroke="#101020" stroke-width="1.5"/>
<rect x="781.9" y="476.11" width="6.8" height="6.8" fill="#101020"/>
<text x="608.99" y="550.49" font-size="19" font-weight="bold" font-family="'Liberation Sans', Arial, Helvetica, sans-serif" fill="#000" letter-spacing="-7.39">*</text>
<text x="661.64" y="515.69" font-size="19" font-weight="bold" font-family="'Liberation Sans', Arial, Helvetica, sans-serif" fill="#000" letter-spacing="2.11">**</text>
<text x="714.69" y="476.69" font-size="19" font-weight="bold" font-family="'Liberation Sans', Arial, Helvetica, sans-serif" fill="#000" letter-spacing="2.11">***</text>
<text x="772.29" y="471.49" font-size="19" font-weight="bold" font-family="'Liberation Sans', Arial, Helvetica, sans-serif" fill="#000" letter-spacing="2.11">***</text>
<line x1="527" y1="634.9" x2="543" y2="634.9" stroke="#101020" stroke-width="1.6"/>
<circle cx="535" cy="634.9" r="2.6" fill="#101020"/>
<text x="545.75" y="640.3" font-size="16.34" text-anchor="start" font-weight="bold" font-family="'Liberation Serif', 'Times New Roman', Times, serif" fill="#141414" textLength="98.67" lengthAdjust="spacingAndGlyphs">Blank control</text>
<line x1="527" y1="654.3" x2="543" y2="654.3" stroke="#2424b4" stroke-width="1.6"/>
<rect x="531.8" y="651.8" width="6.4" height="5" fill="#2424b4"/>
<text x="545.07" y="659.7" font-size="16.34" text-anchor="start" font-weight="bold" font-family="'Liberation Serif', 'Times New Roman', Times, serif" fill="#141414" textLength="124.11" lengthAdjust="spacingAndGlyphs">Scramble control</text>
<line x1="686.9" y1="634.1" x2="704.1" y2="634.1" stroke="#d23a48" stroke-width="1.6"/>
<circle cx="695.5" cy="634.1" r="2.6" fill="#d23a48"/>
<text x="713.97" y="637.5" font-size="18.63" text-anchor="start" font-weight="bold" font-family="'Liberation Serif', 'Times New Roman', Times, serif" fill="#141414" textLength="110.57" lengthAdjust="spacingAndGlyphs">Overexpression</text>
<line x1="686.9" y1="654.3" x2="704.1" y2="654.3" stroke="#3cc43c" stroke-width="1.6"/>
<circle cx="695.5" cy="654.3" r="2.6" fill="#3cc43c"/>
<text x="714.55" y="660.7" font-size="18.02" text-anchor="start" font-weight="bold" font-family="'Liberation Serif', 'Times New Roman', Times, serif" fill="#141414" textLength="84.85" lengthAdjust="spacingAndGlyphs">Knockdown</text>
<text x="1143.28" y="18.3" font-size="20.58" text-anchor="start" font-weight="bold" font-family="'Liberation Sans', Arial, Helvetica, sans-serif" fill="#000" textLength="70.47" lengthAdjust="spacingAndGlyphs">HepG2</text>
<line x1="987.6" y1="22.5" x2="987.6" y2="290.6" stroke="#000" stroke-width="2.2"/>
<line x1="977.1" y1="289.6" x2="987.6" y2="289.6" stroke="#000" stroke-width="2"/>
<text x="974.1" y="295.9" font-size="18" text-anchor="end" font-weight="bold" font-family="'Liberation Sans', Arial, Helvetica, sans-serif" fill="#000">0</text>
<line x1="977.1" y1="200.9" x2="987.6" y2="200.9" stroke="#000" stroke-width="2"/>
<text x="974.1" y="207.2" font-size="18" text-anchor="end" font-weight="bold" font-family="'Liberation Sans', Arial, Helvetica, sans-serif" fill="#000">50</text>
<line x1="977.1" y1="112.2" x2="987.6" y2="112.2" stroke="#000" stroke-width="2"/>
<text x="974.1" y="118.5" font-size="18" text-anchor="end" font-weight="bold" font-family="'Liberation Sans', Arial, Helvetica, sans-serif" fill="#000">100</text>
<line x1="977.1" y1="23.5" x2="987.6" y2="23.5" stroke="#000" stroke-width="2"/>
<text x="974.1" y="29.8" font-size="18" text-anchor="end" font-weight="bold" font-family="'Liberation Sans', Arial, Helvetica, sans-serif" fill="#000">150</text>
<text x="934" y="285.85" font-size="18" text-anchor="start" font-weight="bold" font-family="'Liberation Sans', Arial, Helvetica, sans-serif" fill="#000" textLength="256.11" lengthAdjust="spacingAndGlyphs" transform="rotate(-90 934 285.85)" xml:space="preserve">Rate of  cell proliferation(%)</text>
<line x1="986.6" y1="289.6" x2="1387" y2="289.6" stroke="#000" stroke-width="2.2"/>
<line x1="1025.5" y1="289.6" x2="1025.5" y2="300.1" stroke="#000" stroke-width="2"/>
<text x="1009.63" y="320" font-size="17.39" text-anchor="start" font-weight="bold" font-family="'Liberation Sans', Arial, Helvetica, sans-serif" fill="#000" textLength="32.87" lengthAdjust="spacingAndGlyphs">24h</text>
<line x1="1106.5" y1="289.6" x2="1106.5" y2="300.1" stroke="#000" stroke-width="2"/>
<text x="1091.02" y="320" font-size="17.39" text-anchor="start" font-weight="bold" font-family="'Liberation Sans', Arial, Helvetica, sans-serif" fill="#000" textLength="32.47" lengthAdjust="spacingAndGlyphs">48h</text>
<line x1="1187.3" y1="289.6" x2="1187.3" y2="300.1" stroke="#000" stroke-width="2"/>
<text x="1171.24" y="320" font-size="17.39" text-anchor="start" font-weight="bold" font-family="'Liberation Sans', Arial, Helvetica, sans-serif" fill="#000" textLength="33.08" lengthAdjust="spacingAndGlyphs">72h</text>
<line x1="1268" y1="289.6" x2="1268" y2="300.1" stroke="#000" stroke-width="2"/>
<text x="1252.13" y="320" font-size="17.39" text-anchor="start" font-weight="bold" font-family="'Liberation Sans', Arial, Helvetica, sans-serif" fill="#000" textLength="32.87" lengthAdjust="spacingAndGlyphs">96h</text>
<line x1="1347.3" y1="289.6" x2="1347.3" y2="300.1" stroke="#000" stroke-width="2"/>
<text x="1325.74" y="320" font-size="17.39" text-anchor="start" font-weight="bold" font-family="'Liberation Sans', Arial, Helvetica, sans-serif" fill="#000" textLength="43.61" lengthAdjust="spacingAndGlyphs">120h</text>
<text x="1159.23" y="342.3" font-size="16.67" text-anchor="start" font-weight="bold" font-family="'Liberation Sans', Arial, Helvetica, sans-serif" fill="#000" textLength="56.33" lengthAdjust="spacingAndGlyphs">Hours</text>
<rect x="993.6" y="112.6" width="11.3" height="177" fill="#000"/>
<rect x="1011" y="114.3" width="11.3" height="175.3" fill="#0000c0"/>
<line x1="1016.65" y1="110.5" x2="1016.65" y2="115.3" stroke="#0000c0" stroke-width="1.6"/>
<line x1="1013.35" y1="110.5" x2="1019.95" y2="110.5" stroke="#0000c0" stroke-width="1.8"/>
<rect x="1028.2" y="113.5" width="11.3" height="176.1" fill="#f64141"/>
<line x1="1033.85" y1="109.7" x2="1033.85" y2="114.5" stroke="#f64141" stroke-width="1.6"/>
<line x1="1030.55" y1="109.7" x2="1037.15" y2="109.7" stroke="#f64141" stroke-width="1.8"/>
<rect x="1045.7" y="126.7" width="11.3" height="162.9" fill="#0a5e0a"/>
<line x1="1051.35" y1="123.7" x2="1051.35" y2="127.7" stroke="#0a5e0a" stroke-width="1.6"/>
<line x1="1048.05" y1="123.7" x2="1054.65" y2="123.7" stroke="#0a5e0a" stroke-width="1.8"/>
<rect x="1075" y="112.6" width="11.3" height="177" fill="#000"/>
<rect x="1092.4" y="116" width="11.3" height="173.6" fill="#0000c0"/>
<line x1="1098.05" y1="111.2" x2="1098.05" y2="117" stroke="#0000c0" stroke-width="1.6"/>
<line x1="1094.75" y1="111.2" x2="1101.35" y2="111.2" stroke="#0000c0" stroke-width="1.8"/>
<rect x="1109.6" y="101.9" width="11.3" height="187.7" fill="#f64141"/>
<line x1="1115.25" y1="98.7" x2="1115.25" y2="102.9" stroke="#f64141" stroke-width="1.6"/>
<line x1="1111.95" y1="98.7" x2="1118.55" y2="98.7" stroke="#f64141" stroke-width="1.8"/>
<rect x="1127.1" y="157.8" width="11.3" height="131.8" fill="#0a5e0a"/>
<line x1="1132.75" y1="152.8" x2="1132.75" y2="158.8" stroke="#0a5e0a" stroke-width="1.6"/>
<line x1="1129.45" y1="152.8" x2="1136.05" y2="152.8" stroke="#0a5e0a" stroke-width="1.8"/>
<rect x="1155.8" y="112.7" width="11.3" height="176.9" fill="#000"/>
<rect x="1173.2" y="112.8" width="11.3" height="176.8" fill="#0000c0"/>
<line x1="1178.85" y1="106.6" x2="1178.85" y2="113.8" stroke="#0000c0" stroke-width="1.6"/>
<line x1="1175.55" y1="106.6" x2="1182.15" y2="106.6" stroke="#0000c0" stroke-width="1.8"/>
<rect x="1190.4" y="93.9" width="11.3" height="195.7" fill="#f64141"/>
<line x1="1196.05" y1="91.5" x2="1196.05" y2="94.9" stroke="#f64141" stroke-width="1.6"/>
<line x1="1192.75" y1="91.5" x2="1199.35" y2="91.5" stroke="#f64141" stroke-width="1.8"/>
<rect x="1207.9" y="160.7" width="11.3" height="128.9" fill="#0a5e0a"/>
<line x1="1213.55" y1="156.8" x2="1213.55" y2="161.7" stroke="#0a5e0a" stroke-width="1.6"/>
<line x1="1210.25" y1="156.8" x2="1216.85" y2="156.8" stroke="#0a5e0a" stroke-width="1.8"/>
<rect x="1236.6" y="112.7" width="11.3" height="176.9" fill="#000"/>
<rect x="1254" y="111.7" width="11.3" height="177.9" fill="#0000c0"/>
<line x1="1259.65" y1="108.8" x2="1259.65" y2="112.7" stroke="#0000c0" stroke-width="1.6"/>
<line x1="1256.35" y1="108.8" x2="1262.95" y2="108.8" stroke="#0000c0" stroke-width="1.8"/>
<rect x="1271.2" y="93.8" width="11.3" height="195.8" fill="#f64141"/>
<line x1="1276.85" y1="92" x2="1276.85" y2="94.8" stroke="#f64141" stroke-width="1.6"/>
<line x1="1273.55" y1="92" x2="1280.15" y2="92" stroke="#f64141" stroke-width="1.8"/>
<rect x="1288.7" y="170.3" width="11.3" height="119.3" fill="#0a5e0a"/>
<line x1="1294.35" y1="167.4" x2="1294.35" y2="171.3" stroke="#0a5e0a" stroke-width="1.6"/>
<line x1="1291.05" y1="167.4" x2="1297.65" y2="167.4" stroke="#0a5e0a" stroke-width="1.8"/>
<rect x="1316" y="112.7" width="11.3" height="176.9" fill="#000"/>
<rect x="1333.4" y="116.8" width="11.3" height="172.8" fill="#0000c0"/>
<line x1="1339.05" y1="114.2" x2="1339.05" y2="117.8" stroke="#0000c0" stroke-width="1.6"/>
<line x1="1335.75" y1="114.2" x2="1342.35" y2="114.2" stroke="#0000c0" stroke-width="1.8"/>
<rect x="1350.6" y="94.8" width="11.3" height="194.8" fill="#f64141"/>
<line x1="1356.25" y1="93.6" x2="1356.25" y2="95.8" stroke="#f64141" stroke-width="1.6"/>
<line x1="1352.95" y1="93.6" x2="1359.55" y2="93.6" stroke="#f64141" stroke-width="1.8"/>
<rect x="1368.1" y="177.3" width="11.3" height="112.3" fill="#0a5e0a"/>
<line x1="1373.75" y1="176.3" x2="1373.75" y2="178.3" stroke="#0a5e0a" stroke-width="1.6"/>
<line x1="1370.45" y1="176.3" x2="1377.05" y2="176.3" stroke="#0a5e0a" stroke-width="1.8"/>
<text x="1023.89" y="105.9" font-size="16.42" text-anchor="start" font-weight="normal" font-family="'Liberation Sans', Arial, Helvetica, sans-serif" fill="#3a3a3a" textLength="19.69" lengthAdjust="spacingAndGlyphs">ns</text>
<text x="1048.92" y="124.38" font-size="12.5" font-weight="bold" font-family="'Liberation Sans', Arial, Helvetica, sans-serif" fill="#1a1a1a" letter-spacing="1.54">*</text>
<text x="1108.92" y="100.38" font-size="12.5" font-weight="bold" font-family="'Liberation Sans', Arial, Helvetica, sans-serif" fill="#1a1a1a" letter-spacing="1.54">**</text>
<text x="1126.92" y="151.68" font-size="12.5" font-weight="bold" font-family="'Liberation Sans', Arial, Helvetica, sans-serif" fill="#1a1a1a" letter-spacing="1.54">**</text>
<text x="1190.92" y="91.88" font-size="12.5" font-weight="bold" font-family="'Liberation Sans', Arial, Helvetica, sans-serif" fill="#1a1a1a" letter-spacing="1.54">**</text>
<text x="1204.92" y="157.68" font-size="12.5" font-weight="bold" font-family="'Liberation Sans', Arial, Helvetica, sans-serif" fill="#1a1a1a" letter-spacing="1.54">***</text>
<text x="1270.72" y="94.28" font-size="12.5" font-weight="bold" font-family="'Liberation Sans', Arial, Helvetica, sans-serif" fill="#1a1a1a" letter-spacing="1.54">**</text>
<text x="1284.72" y="167.47" font-size="12.5" font-weight="bold" font-family="'Liberation Sans', Arial, Helvetica, sans-serif" fill="#1a1a1a" letter-spacing="1.54">***</text>
<text x="1349.22" y="94.28" font-size="12.5" font-weight="bold" font-family="'Liberation Sans', Arial, Helvetica, sans-serif" fill="#1a1a1a" letter-spacing="1.54">**</text>
<text x="1364.72" y="177.28" font-size="12.5" font-weight="bold" font-family="'Liberation Sans', Arial, Helvetica, sans-serif" fill="#1a1a1a" letter-spacing="1.54">***</text>
<rect x="1394.3" y="3.6" width="28.5" height="6.7" fill="#000"/>
<text x="1437.19" y="12.8" font-size="14.2" text-anchor="start" font-weight="normal" font-family="'Liberation Sans', Arial, Helvetica, sans-serif" fill="#262626" textLength="101.97" lengthAdjust="spacingAndGlyphs">Blank control</text>
<rect x="1395.2" y="20.4" width="28.6" height="6.7" fill="#0000c0"/>
<text x="1439.42" y="29.8" font-size="14.2" text-anchor="start" font-weight="normal" font-family="'Liberation Sans', Arial, Helvetica, sans-serif" fill="#262626" textLength="130.16" lengthAdjust="spacingAndGlyphs">Scramble control</text>
<rect x="1395.2" y="37.9" width="28.6" height="6.7" fill="#f64141"/>
<text x="1439.44" y="46.8" font-size="14.2" text-anchor="start" font-weight="normal" font-family="'Liberation Sans', Arial, Helvetica, sans-serif" fill="#262626" textLength="118.21" lengthAdjust="spacingAndGlyphs">Overexpression</text>
<rect x="1395.2" y="52.3" width="28.6" height="6.7" fill="#0a5e0a"/>
<text x="1438.81" y="62" font-size="14.2" text-anchor="start" font-weight="normal" font-family="'Liberation Sans', Arial, Helvetica, sans-serif" fill="#262626" textLength="90.03" lengthAdjust="spacingAndGlyphs">Knockdown</text>
<text x="1140.07" y="422.3" font-size="22.17" text-anchor="start" font-weight="bold" font-family="'Liberation Sans', Arial, Helvetica, sans-serif" fill="#000" textLength="54.92" lengthAdjust="spacingAndGlyphs">Huh7</text>
<line x1="980.6" y1="429.1" x2="980.6" y2="697" stroke="#000" stroke-width="2.2"/>
<line x1="970.1" y1="696" x2="980.6" y2="696" stroke="#000" stroke-width="2"/>
<text x="967.9" y="702.3" font-size="18" text-anchor="end" font-weight="bold" font-family="'Liberation Sans', Arial, Helvetica, sans-serif" fill="#000">0</text>
<line x1="970.1" y1="607.37" x2="980.6" y2="607.37" stroke="#000" stroke-width="2"/>
<text x="967.9" y="613.67" font-size="18" text-anchor="end" font-weight="bold" font-family="'Liberation Sans', Arial, Helvetica, sans-serif" fill="#000">50</text>
<line x1="970.1" y1="518.73" x2="980.6" y2="518.73" stroke="#000" stroke-width="2"/>
<text x="967.9" y="525.03" font-size="18" text-anchor="end" font-weight="bold" font-family="'Liberation Sans', Arial, Helvetica, sans-serif" fill="#000">100</text>
<line x1="970.1" y1="430.1" x2="980.6" y2="430.1" stroke="#000" stroke-width="2"/>
<text x="967.9" y="436.4" font-size="18" text-anchor="end" font-weight="bold" font-family="'Liberation Sans', Arial, Helvetica, sans-serif" fill="#000">150</text>
<text x="933.1" y="680.45" font-size="16.7" text-anchor="start" font-weight="bold" font-family="'Liberation Sans', Arial, Helvetica, sans-serif" fill="#000" textLength="234.42" lengthAdjust="spacingAndGlyphs" transform="rotate(-90 933.1 680.45)" xml:space="preserve">Rate of  cell proliferation(%)</text>
<line x1="979.6" y1="696" x2="1380.5" y2="696" stroke="#000" stroke-width="2.2"/>
<line x1="1019.4" y1="696" x2="1019.4" y2="706.5" stroke="#000" stroke-width="2"/>
<text x="1003.9" y="727.7" font-size="17.39" text-anchor="start" font-weight="bold" font-family="'Liberation Sans', Arial, Helvetica, sans-serif" fill="#000" textLength="32.13" lengthAdjust="spacingAndGlyphs">24h</text>
<line x1="1099.9" y1="696" x2="1099.9" y2="706.5" stroke="#000" stroke-width="2"/>
<text x="1084.77" y="727.7" font-size="17.39" text-anchor="start" font-weight="bold" font-family="'Liberation Sans', Arial, Helvetica, sans-serif" fill="#000" textLength="31.74" lengthAdjust="spacingAndGlyphs">48h</text>
<line x1="1180.6" y1="696" x2="1180.6" y2="706.5" stroke="#000" stroke-width="2"/>
<text x="1164.91" y="727.7" font-size="17.39" text-anchor="start" font-weight="bold" font-family="'Liberation Sans', Arial, Helvetica, sans-serif" fill="#000" textLength="32.33" lengthAdjust="spacingAndGlyphs">72h</text>
<line x1="1261.1" y1="696" x2="1261.1" y2="706.5" stroke="#000" stroke-width="2"/>
<text x="1245.6" y="727.7" font-size="17.39" text-anchor="start" font-weight="bold" font-family="'Liberation Sans', Arial, Helvetica, sans-serif" fill="#000" textLength="32.13" lengthAdjust="spacingAndGlyphs">96h</text>
<line x1="1340.8" y1="696" x2="1340.8" y2="706.5" stroke="#000" stroke-width="2"/>
<text x="1319.73" y="727.7" font-size="17.39" text-anchor="start" font-weight="bold" font-family="'Liberation Sans', Arial, Helvetica, sans-serif" fill="#000" textLength="42.62" lengthAdjust="spacingAndGlyphs">120h</text>
<text x="1153.34" y="748.4" font-size="16.67" text-anchor="start" font-weight="bold" font-family="'Liberation Sans', Arial, Helvetica, sans-serif" fill="#000" textLength="56.12" lengthAdjust="spacingAndGlyphs">Hours</text>
<rect x="988.2" y="519" width="11.2" height="177" fill="#000"/>
<rect x="1005.4" y="524.1" width="11.2" height="171.9" fill="#0000c0"/>
<line x1="1011" y1="518.8" x2="1011" y2="525.1" stroke="#0000c0" stroke-width="1.6"/>
<line x1="1007.7" y1="518.8" x2="1014.3" y2="518.8" stroke="#0000c0" stroke-width="1.8"/>
<rect x="1022.7" y="515" width="11.2" height="181" fill="#f64141"/>
<line x1="1028.3" y1="511.5" x2="1028.3" y2="516" stroke="#f64141" stroke-width="1.6"/>
<line x1="1025" y1="511.5" x2="1031.6" y2="511.5" stroke="#f64141" stroke-width="1.8"/>
<rect x="1039.8" y="527.6" width="11.2" height="168.4" fill="#0a5e0a"/>
<line x1="1045.4" y1="522.7" x2="1045.4" y2="528.6" stroke="#0a5e0a" stroke-width="1.6"/>
<line x1="1042.1" y1="522.7" x2="1048.7" y2="522.7" stroke="#0a5e0a" stroke-width="1.8"/>
<rect x="1068.2" y="519.2" width="11.2" height="176.8" fill="#000"/>
<rect x="1085.4" y="520.6" width="11.2" height="175.4" fill="#0000c0"/>
<line x1="1091" y1="516.1" x2="1091" y2="521.6" stroke="#0000c0" stroke-width="1.6"/>
<line x1="1087.7" y1="516.1" x2="1094.3" y2="516.1" stroke="#0000c0" stroke-width="1.8"/>
<rect x="1102.7" y="504.9" width="11.2" height="191.1" fill="#f64141"/>
<line x1="1108.3" y1="496.1" x2="1108.3" y2="505.9" stroke="#f64141" stroke-width="1.6"/>
<line x1="1105" y1="496.1" x2="1111.6" y2="496.1" stroke="#f64141" stroke-width="1.8"/>
<rect x="1119.8" y="554.9" width="11.2" height="141.1" fill="#0a5e0a"/>
<line x1="1125.4" y1="552.1" x2="1125.4" y2="555.9" stroke="#0a5e0a" stroke-width="1.6"/>
<line x1="1122.1" y1="552.1" x2="1128.7" y2="552.1" stroke="#0a5e0a" stroke-width="1.8"/>
<rect x="1149" y="519.2" width="11.2" height="176.8" fill="#000"/>
<rect x="1166.2" y="514.3" width="11.2" height="181.7" fill="#0000c0"/>
<line x1="1171.8" y1="510.4" x2="1171.8" y2="515.3" stroke="#0000c0" stroke-width="1.6"/>
<line x1="1168.5" y1="510.4" x2="1175.1" y2="510.4" stroke="#0000c0" stroke-width="1.8"/>
<rect x="1183.5" y="493.3" width="11.2" height="202.7" fill="#f64141"/>
<line x1="1189.1" y1="490" x2="1189.1" y2="494.3" stroke="#f64141" stroke-width="1.6"/>
<line x1="1185.8" y1="490" x2="1192.4" y2="490" stroke="#f64141" stroke-width="1.8"/>
<rect x="1200.6" y="571" width="11.2" height="125" fill="#0a5e0a"/>
<line x1="1206.2" y1="568.5" x2="1206.2" y2="572" stroke="#0a5e0a" stroke-width="1.6"/>
<line x1="1202.9" y1="568.5" x2="1209.5" y2="568.5" stroke="#0a5e0a" stroke-width="1.8"/>
<rect x="1229.8" y="518.5" width="11.2" height="177.5" fill="#000"/>
<rect x="1247" y="518.1" width="11.2" height="177.9" fill="#0000c0"/>
<line x1="1252.6" y1="514.2" x2="1252.6" y2="519.1" stroke="#0000c0" stroke-width="1.6"/>
<line x1="1249.3" y1="514.2" x2="1255.9" y2="514.2" stroke="#0000c0" stroke-width="1.8"/>
<rect x="1264.3" y="496.4" width="11.2" height="199.6" fill="#f64141"/>
<line x1="1269.9" y1="485.7" x2="1269.9" y2="497.4" stroke="#f64141" stroke-width="1.6"/>
<line x1="1266.6" y1="485.7" x2="1273.2" y2="485.7" stroke="#f64141" stroke-width="1.8"/>
<rect x="1281.4" y="591.7" width="11.2" height="104.3" fill="#0a5e0a"/>
<line x1="1287" y1="589.4" x2="1287" y2="592.7" stroke="#0a5e0a" stroke-width="1.6"/>
<line x1="1283.7" y1="589.4" x2="1290.3" y2="589.4" stroke="#0a5e0a" stroke-width="1.8"/>
<rect x="1309.1" y="519.5" width="11.2" height="176.5" fill="#000"/>
<rect x="1326.3" y="523.1" width="11.2" height="172.9" fill="#0000c0"/>
<line x1="1331.9" y1="517.2" x2="1331.9" y2="524.1" stroke="#0000c0" stroke-width="1.6"/>
<line x1="1328.6" y1="517.2" x2="1335.2" y2="517.2" stroke="#0000c0" stroke-width="1.8"/>
<rect x="1343.6" y="516" width="11.2" height="180" fill="#f64141"/>
<line x1="1349.2" y1="511.3" x2="1349.2" y2="517" stroke="#f64141" stroke-width="1.6"/>
<line x1="1345.9" y1="511.3" x2="1352.5" y2="511.3" stroke="#f64141" stroke-width="1.8"/>
<rect x="1360.7" y="597.4" width="11.2" height="98.6" fill="#0a5e0a"/>
<line x1="1366.3" y1="595.6" x2="1366.3" y2="598.4" stroke="#0a5e0a" stroke-width="1.6"/>
<line x1="1363" y1="595.6" x2="1369.6" y2="595.6" stroke="#0a5e0a" stroke-width="1.8"/>
<text x="1024.53" y="511.57" font-size="12.5" font-weight="bold" font-family="'Liberation Sans', Arial, Helvetica, sans-serif" fill="#1a1a1a" letter-spacing="1.54">*</text>
<text x="1043.03" y="523.48" font-size="12.5" font-weight="bold" font-family="'Liberation Sans', Arial, Helvetica, sans-serif" fill="#1a1a1a" letter-spacing="1.54">*</text>
<text x="1102.92" y="495.48" font-size="12.5" font-weight="bold" font-family="'Liberation Sans', Arial, Helvetica, sans-serif" fill="#1a1a1a" letter-spacing="1.54">**</text>
<text x="1120.72" y="550.77" font-size="12.5" font-weight="bold" font-family="'Liberation Sans', Arial, Helvetica, sans-serif" fill="#1a1a1a" letter-spacing="1.54">**</text>
<text x="1182.62" y="489.88" font-size="12.5" font-weight="bold" font-family="'Liberation Sans', Arial, Helvetica, sans-serif" fill="#1a1a1a" letter-spacing="1.54">**</text>
<text x="1201.62" y="568.27" font-size="12.5" font-weight="bold" font-family="'Liberation Sans', Arial, Helvetica, sans-serif" fill="#1a1a1a" letter-spacing="1.54">**</text>
<text x="1260.72" y="484.98" font-size="12.5" font-weight="bold" font-family="'Liberation Sans', Arial, Helvetica, sans-serif" fill="#1a1a1a" letter-spacing="1.54">***</text>
<text x="1279.82" y="589.58" font-size="12.5" font-weight="bold" font-family="'Liberation Sans', Arial, Helvetica, sans-serif" fill="#1a1a1a" letter-spacing="1.54">***</text>
<text x="1344.92" y="511.07" font-size="12.5" font-weight="bold" font-family="'Liberation Sans', Arial, Helvetica, sans-serif" fill="#1a1a1a" letter-spacing="1.54">**</text>
<text x="1360.42" y="596.67" font-size="12.5" font-weight="bold" font-family="'Liberation Sans', Arial, Helvetica, sans-serif" fill="#1a1a1a" letter-spacing="1.54">***</text>
<rect x="1388.4" y="411.4" width="28.8" height="6.7" fill="#000"/>
<text x="1431.59" y="420.8" font-size="14.2" text-anchor="start" font-weight="normal" font-family="'Liberation Sans', Arial, Helvetica, sans-serif" fill="#262626" textLength="102.18" lengthAdjust="spacingAndGlyphs">Blank control</text>
<rect x="1388.4" y="427.4" width="28.8" height="6.7" fill="#0000c0"/>
<text x="1432.21" y="437.2" font-size="14.2" text-anchor="start" font-weight="normal" font-family="'Liberation Sans', Arial, Helvetica, sans-serif" fill="#262626" textLength="131.08" lengthAdjust="spacingAndGlyphs">Scramble control</text>
<rect x="1388.4" y="444.4" width="28.8" height="6.7" fill="#f64141"/>
<text x="1432.23" y="453.9" font-size="14.2" text-anchor="start" font-weight="normal" font-family="'Liberation Sans', Arial, Helvetica, sans-serif" fill="#262626" textLength="119.43" lengthAdjust="spacingAndGlyphs">Overexpression</text>
<rect x="1388.4" y="460.5" width="28.8" height="6.7" fill="#0a5e0a"/>
<text x="1431.58" y="469.6" font-size="14.2" text-anchor="start" font-weight="normal" font-family="'Liberation Sans', Arial, Helvetica, sans-serif" fill="#262626" textLength="91.57" lengthAdjust="spacingAndGlyphs">Knockdown</text>
<line x1="983.4" y1="519" x2="983.4" y2="696" stroke="#8a8a8a" stroke-width="1.5"/>
</svg>
</body></html>
